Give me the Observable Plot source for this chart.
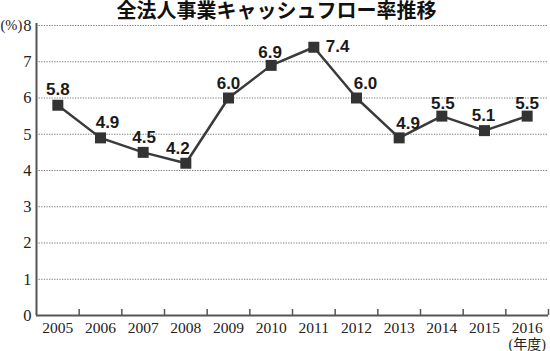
<!DOCTYPE html>
<html>
<head>
<meta charset="utf-8">
<script src="https://cdn.jsdelivr.net/npm/d3@7"></script>
<script src="https://cdn.jsdelivr.net/npm/@observablehq/plot@0.6"></script>
<style>
  html, body { margin: 0; padding: 0; background: #fff; }
  #wrap { position: relative; width: 550px; height: 351px; }
  #title { position: absolute; top: 0; left: 0; width: 550px; height: 23px; padding-left: 3px; box-sizing: border-box;
    text-align: center; line-height: 23px; white-space: nowrap;
    font-family: 'Liberation Sans', 'Noto Sans CJK JP', sans-serif; font-weight: bold; font-size: 20px; color: #111; }
</style>
</head>
<body>
<div id="wrap"><div id="chart"></div><div id="title"></div></div>
<script>
const title = "全法人事業キャッシュフロー率推移";
const years = [2005, 2006, 2007, 2008, 2009, 2010, 2011, 2012, 2013, 2014, 2015, 2016];
const rates = [5.8, 4.9, 4.5, 4.2, 6.0, 6.9, 7.4, 6.0, 4.9, 5.5, 5.1, 5.5];
const yTicks = [0, 1, 2, 3, 4, 5, 6, 7, 8];
const yUnit = "(%)";
const xUnit = "(年度)";

// label nudges (style only)
const labelDx = [0, 7, 1, -8, 0, -1, 12, 9, 9, 1, -1, 0];
const labelDy = [-16, -15, -15, -15, -14, -13, -1, -14, -14, -13, -15, -13];

const data = years.map((year, i) => ({year, rate: rates[i], i}));
const boundaries = years.slice(1).map(y => y - 0.5).concat([years[years.length - 1] + 0.5]);

const W = 550, H = 351, mt = 25, mb = 36, ml = 36, mr = 2;
const serif = "'Liberation Serif', 'Times New Roman', serif";
const sans = "'Liberation Sans', Arial, sans-serif";
const ink = "#3a3a3a";

const valueLabels = data.map(d => Plot.text([d], {
  x: "year", y: "rate", text: v => v.rate.toFixed(1),
  dx: labelDx[d.i], dy: labelDy[d.i],
  textAnchor: labelDy[d.i] > -5 ? "start" : "middle",
  fontFamily: sans, fontWeight: "bold", fontSize: 17, fill: "#1a1a1a", lineAnchor: "middle"
}));

const plot = Plot.plot({
  width: W,
  height: H,
  marginTop: mt,
  marginBottom: mb,
  marginLeft: ml,
  marginRight: mr,
  style: {background: "#fff", overflow: "visible"},
  x: {domain: [years[0] - 0.5, years[years.length - 1] + 0.5], axis: null},
  y: {domain: [0, 8], axis: null},
  marks: [
    Plot.ruleY(yTicks.filter(d => d > 0), {y: d => d, stroke: "#7a7a7a", strokeWidth: 1, strokeDasharray: "1.3,1.3"}),
    Plot.ruleX(boundaries, {x: d => d, stroke: "#555", strokeWidth: 1.5, insetTop: H - mt - mb - 6}),
    Plot.ruleX([years[0] - 0.5], {x: d => d, stroke: "#555", strokeWidth: 2, insetTop: -2}),
    Plot.ruleY([0], {y: d => d, stroke: "#555", strokeWidth: 2}),
    Plot.text(yTicks, {x: years[0] - 0.5, y: d => d, text: d => String(d), dx: -5, textAnchor: "end", lineAnchor: "middle", fontFamily: serif, fontSize: 16.5, fill: "#222"}),
    Plot.text([yUnit], {x: years[0] - 0.5, y: 8, text: d => d, dx: -36, textAnchor: "start", lineAnchor: "middle", fontFamily: serif, fontSize: 14.5, fill: "#222"}),
    Plot.text(years, {x: d => d, y: 0, text: d => String(d), dy: 13, lineAnchor: "middle", fontFamily: serif, fontSize: 15.5, fill: "#222"}),
    Plot.text([xUnit], {x: years[years.length - 1], y: 0, text: d => d, dy: 29, lineAnchor: "middle", fontFamily: serif + ", 'Noto Sans CJK JP'", fontSize: 14, fill: "#222"}),
    Plot.line(data, {x: "year", y: "rate", stroke: ink, strokeWidth: 2.5}),
    Plot.dot(data, {x: "year", y: "rate", symbol: "square", r: 6.2, fill: "#333", stroke: "none"}),
    ...valueLabels
  ]
});

document.getElementById("chart").appendChild(plot);
document.getElementById("title").textContent = title;
</script>
</body>
</html>
